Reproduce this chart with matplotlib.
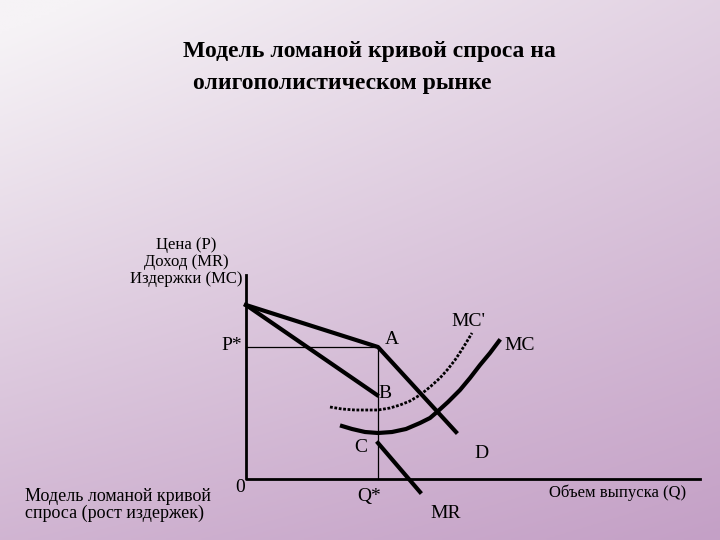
import numpy as np
import matplotlib.pyplot as plt

# diagram geometry (pixel coordinates of the reference drawing)
axis_x = [246, 246, 700]
axis_y = [275, 479, 479]
demand_top_x = [246, 378, 456]
demand_top_y = [305, 347, 432]
demand_low_x = [246, 377]
demand_low_y = [305, 395]
mr_x = [378, 420]
mr_y = [443, 492]
mc_x = [342, 352, 365, 378, 392, 406, 420, 430, 437, 448, 460, 470, 480, 490, 499]
mc_y = [426, 429, 432, 433, 432, 429, 423, 418, 412, 402, 390, 378, 365, 353, 341]
mc2_x = [330, 342, 355, 367, 378, 390, 400, 410, 420, 430, 440, 448, 455, 461, 466, 472]
mc2_y = [407, 409, 410, 410, 410, 408, 405, 401, 395, 387, 378, 369, 360, 351, 343, 333]
p_star = 347
q_star = 378

plt.rcParams['font.family'] = ['Liberation Serif', 'DejaVu Serif']

fig = plt.figure(figsize=(7.2, 5.4), dpi=100)
ax = fig.add_axes([0, 0, 1, 1])
ax.set_xlim(0, 720)
ax.set_ylim(540, 0)
ax.axis('off')

# background gradient
gy, gx = np.mgrid[0:1:200j, 0:1:200j]
t = np.clip(0.8 * gy + 0.45 * gx - 0.2 * gx * gy - 0.05, 0, 1)[..., None]
c0 = np.array([246, 243, 246]) / 255
c1 = np.array([196, 160, 198]) / 255
ax.imshow(c0 * (1 - t) + c1 * t, extent=[0, 720, 540, 0], aspect='auto', zorder=0)

k = 'black'
ax.plot(axis_x, axis_y, color=k, lw=2)
ax.plot([246, q_star], [p_star, p_star], color=k, lw=0.9)
ax.plot([q_star, q_star], [p_star, 479], color=k, lw=0.9)
ax.plot(demand_top_x, demand_top_y, color=k, lw=3)
ax.plot(demand_low_x, demand_low_y, color=k, lw=3)
ax.plot(mr_x, mr_y, color=k, lw=3)
ax.plot(mc_x, mc_y, color=k, lw=3)
ax.plot(mc2_x, mc2_y, color=k, lw=2, ls=(0, (1, 0.6)))

fs = 14
ax.text(183, 52, 'Модель ломаной кривой спроса на', ha='left', va='center',
        fontsize=17, fontweight='bold')
ax.text(193, 83, 'олигополистическом рынке', ha='left', va='center',
        fontsize=17, fontweight='bold')
ax.text(186, 262, 'Цена (P)\nДоход (MR)\nИздержки (MC)', ha='center', va='center',
        fontsize=12, linespacing=1.05)
labels = [('A', 392, 340), ('B', 385, 393), ('C', 361, 448), ('D', 481, 453),
          ("MC'", 468, 322), ('MC', 520, 345), ('P*', 232, 345), ('0', 240, 488),
          ('Q*', 369, 496), ('MR', 446, 514)]
for s, x, y in labels:
    ax.text(x, y, s, ha='center', va='center', fontsize=fs)
ax.text(686, 493, 'Объем выпуска (Q)', ha='right', va='center', fontsize=12)
ax.text(25, 505, 'Модель ломаной кривой\nспроса (рост издержек)', ha='left', va='center',
        fontsize=13, linespacing=1.0)

fig.savefig('out.png', dpi=100)
